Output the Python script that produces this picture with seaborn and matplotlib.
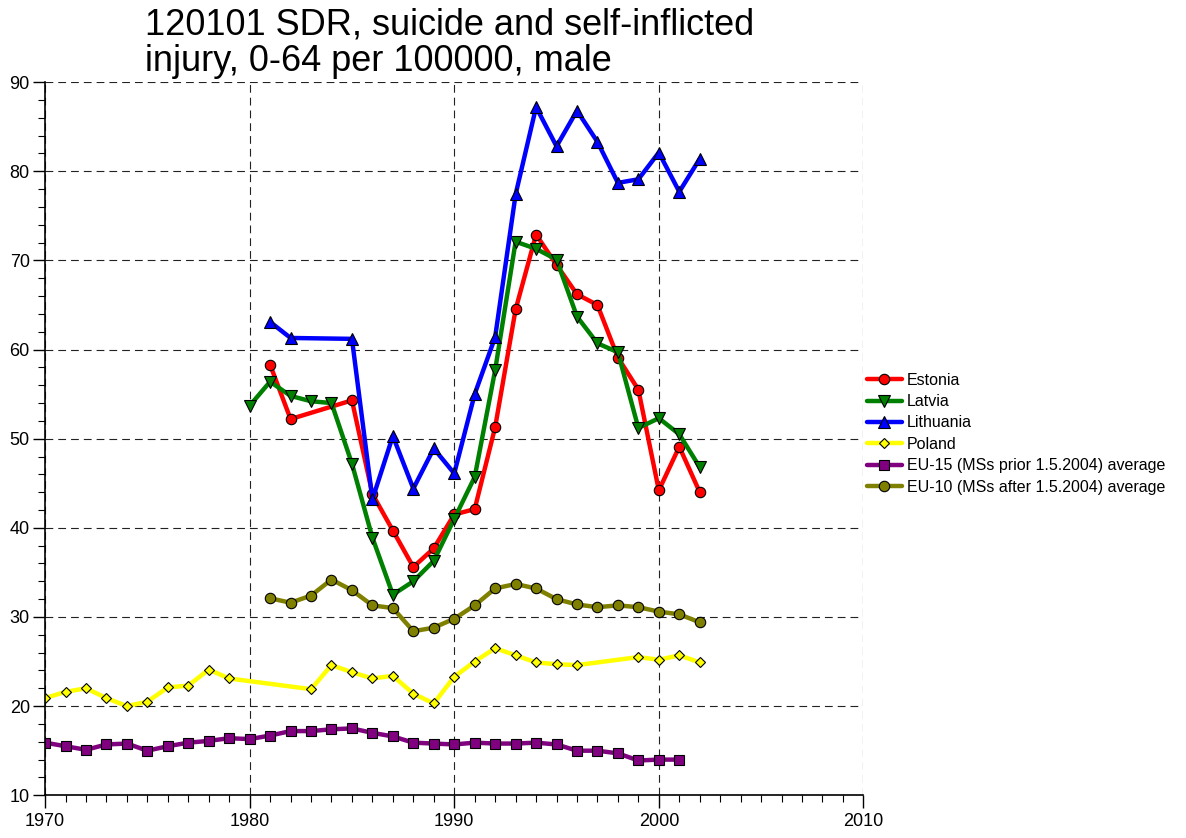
import numpy as np
import pandas as pd
import matplotlib
matplotlib.use("Agg")
import matplotlib.pyplot as plt
import seaborn as sns
from matplotlib.ticker import MultipleLocator

# data
estonia_years = [1981, 1982, 1985, 1986, 1987, 1988, 1989, 1990, 1991, 1992, 1993,
                 1994, 1995, 1996, 1997, 1998, 1999, 2000, 2001, 2002]
estonia_vals = [58.3, 52.2, 54.3, 43.8, 39.7, 35.6, 37.7, 41.5, 42.1, 51.3, 64.5,
                72.9, 69.5, 66.2, 65.0, 59.1, 55.5, 44.2, 49.1, 44.0]

latvia_years = list(range(1980, 2003))
latvia_vals = [53.7, 56.4, 54.8, 54.2, 54.0, 47.2, 38.9, 32.5, 34.0, 36.3, 41.0, 45.7,
               57.7, 72.1, 71.3, 70.1, 63.7, 60.7, 59.7, 51.2, 52.3, 50.5, 46.8]

lithuania_years = [1981, 1982, 1985, 1986, 1987, 1988, 1989, 1990, 1991, 1992, 1993,
                   1994, 1995, 1996, 1997, 1998, 1999, 2000, 2001, 2002]
lithuania_vals = [63.1, 61.3, 61.2, 43.2, 50.3, 44.4, 48.9, 46.1, 55.0, 61.4, 77.4,
                  87.2, 82.8, 86.8, 83.3, 78.7, 79.1, 82.1, 77.7, 81.4]

poland_years = [1970, 1971, 1972, 1973, 1974, 1975, 1976, 1977, 1978, 1979, 1983,
                1984, 1985, 1986, 1987, 1988, 1989, 1990, 1991, 1992, 1993, 1994,
                1995, 1996, 1999, 2000, 2001, 2002]
poland_vals = [20.9, 21.6, 22.0, 20.9, 20.0, 20.5, 22.1, 22.3, 24.1, 23.1, 21.9,
               24.6, 23.8, 23.1, 23.4, 21.4, 20.3, 23.3, 25.0, 26.5, 25.7, 24.9,
               24.7, 24.6, 25.5, 25.2, 25.7, 24.9]

eu15_years = list(range(1970, 2002))
eu15_vals = [15.9, 15.5, 15.1, 15.7, 15.8, 15.0, 15.5, 15.9, 16.1, 16.4, 16.3, 16.7,
             17.2, 17.2, 17.4, 17.5, 17.0, 16.6, 15.9, 15.8, 15.7, 15.9, 15.8, 15.8,
             15.9, 15.7, 15.0, 15.0, 14.7, 13.9, 14.0, 14.0]

eu10_years = list(range(1981, 2003))
eu10_vals = [32.1, 31.6, 32.4, 34.2, 33.0, 31.3, 31.0, 28.4, 28.8, 29.8, 31.3, 33.2,
             33.7, 33.2, 32.0, 31.4, 31.1, 31.3, 31.1, 30.6, 30.3, 29.4]

series = [
    ("Estonia", estonia_years, estonia_vals, "#FF0000", "o", 7.5),
    ("Latvia", latvia_years, latvia_vals, "#008000", "v", 8),
    ("Lithuania", lithuania_years, lithuania_vals, "#0000FF", "^", 8),
    ("Poland", poland_years, poland_vals, "#FFFF00", "D", 5.5),
    ("EU-15 (MSs prior 1.5.2004) average", eu15_years, eu15_vals, "#800080", "s", 7),
    ("EU-10 (MSs after 1.5.2004) average", eu10_years, eu10_vals, "#808000", "o", 7.5),
]

sns.set_style("white")
plt.rcParams['font.family'] = ['Liberation Sans', 'DejaVu Sans']
plt.rcParams['text.color'] = 'black'
plt.rcParams['xtick.color'] = 'black'
plt.rcParams['ytick.color'] = 'black'

fig = plt.figure(figsize=(11.86, 8.38), dpi=100)
ax = fig.add_axes([0.038, 0.051, 0.690, 0.851])

for name, yrs, vals, col, mk, ms in series:
    sns.lineplot(x=yrs, y=vals, ax=ax, color=col, marker=mk, markersize=ms,
                 markeredgecolor="black", markeredgewidth=0.8, linewidth=3.2,
                 label=name, sort=False, estimator=None)

ax.set_xlim(1970, 2010)
ax.set_ylim(10, 90)
ax.xaxis.set_major_locator(MultipleLocator(10))
ax.xaxis.set_minor_locator(MultipleLocator(1))
ax.yaxis.set_major_locator(MultipleLocator(10))
ax.yaxis.set_minor_locator(MultipleLocator(2))
ax.tick_params(axis="both", which="major", direction="out", length=9, width=1,
               labelsize=13, color="black", labelcolor="black", left=True, bottom=True)
ax.tick_params(axis="both", which="minor", direction="out", length=5, width=0.8,
               color="black", left=True, bottom=True)
ax.tick_params(axis="y", pad=2)
ax.tick_params(axis="x", pad=4)

ax.grid(True, which="major", linestyle=(0, (7, 4.5)), color="#222222", linewidth=0.8)
for s in ["top", "right"]:
    ax.spines[s].set_visible(False)
for s in ["left", "bottom"]:
    ax.spines[s].set_color("black")
    ax.spines[s].set_linewidth(1.2)
ax.set_xlabel("")
ax.set_ylabel("")

fig.text(0.122, 0.991, "120101 SDR, suicide and self-inflicted\ninjury, 0-64 per 100000, male",
         fontsize=26, va="top", ha="left", linespacing=1.05, color="black")

leg = ax.legend(loc="upper left", bbox_to_anchor=(1.0, 0.597), frameon=False,
                fontsize=11.5, handlelength=2.2, handletextpad=0.3,
                labelspacing=0.4, borderaxespad=0.2, borderpad=0.0)

fig.savefig("out.png", dpi=100)
